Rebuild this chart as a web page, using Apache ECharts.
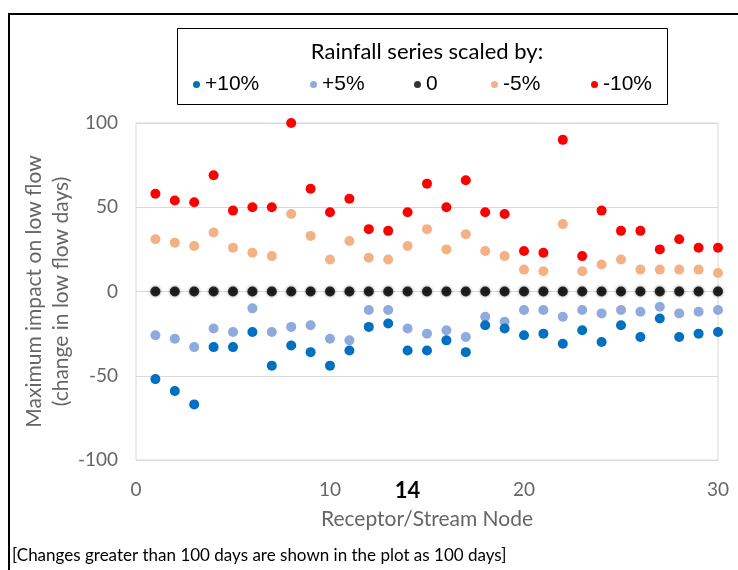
<!DOCTYPE html>
<html>
<head>
<meta charset="utf-8">
<script src="https://cdn.jsdelivr.net/npm/echarts@6/dist/echarts.min.js"></script>
<style>
    html, body { margin: 0; padding: 0; background: #fff; }
    #chart { width: 738px; height: 570px; }
</style>
</head>
<body>
<div id="chart"></div>
<script>
/* ===========================
   Data
=========================== */

const nodes = [1, 2, 3, 4, 5, 6, 7, 8, 9, 10, 11, 12, 13, 14, 15,
    16, 17, 18, 19, 20, 21, 22, 23, 24, 25, 26, 27, 28, 29, 30];

const plus10 = [-52, -59, -67, -33, -33, -24, -44, -32, -36, -44, -35, -21, -19, -35, -35,
    -29, -36, -20, -22, -26, -25, -31, -23, -30, -20, -27, -16, -27, -25, -24];

const plus5 = [-26, -28, -33, -22, -24, -10, -24, -21, -20, -28, -29, -11, -11, -22, -25,
    -23, -27, -15, -18, -11, -11, -15, -11, -13, -11, -12, -9, -13, -12, -11];

const zero = [0, 0, 0, 0, 0, 0, 0, 0, 0, 0, 0, 0, 0, 0, 0,
    0, 0, 0, 0, 0, 0, 0, 0, 0, 0, 0, 0, 0, 0, 0];

const minus5 = [31, 29, 27, 35, 26, 23, 21, 46, 33, 19, 30, 20, 19, 27, 37,
    25, 34, 24, 21, 13, 12, 40, 12, 16, 19, 13, 13, 13, 13, 11];

const minus10 = [58, 54, 53, 69, 48, 50, 50, 100, 61, 47, 55, 37, 36, 47, 64,
    50, 66, 47, 46, 24, 23, 90, 21, 48, 36, 36, 25, 31, 26, 26];

const seriesNames = ["+10%", "+5%", "0", "-5%", "-10%"];
const xTickLabels = [0, 10, 14, 20, 30];
const highlightNode = 14;

/* ===========================
   Helpers
=========================== */

function pairs(values) {
    return nodes.map((n, i) => [n, values[i]]);
}

function makeSeries(name, values, color, extra) {
    return Object.assign({
        name: name,
        type: "scatter",
        symbolSize: 10,
        itemStyle: { color: color, opacity: 1 },
        data: pairs(values)
    }, extra || {});
}

function makeLegend(name, left) {
    return {
        data: [name],
        left: left,
        top: 74,
        padding: 0,
        icon: "circle",
        itemWidth: 7,
        itemHeight: 7,
        selectedMode: false,
        textStyle: {
            fontFamily: "Liberation Sans",
            fontSize: 21,
            color: "#000"
        }
    };
}

/* ===========================
   Chart
=========================== */

const chart = echarts.init(document.getElementById("chart"));

chart.setOption({

    animation: false,
    backgroundColor: "#fff",

    textStyle: { fontFamily: "Lato" },

    legend: [
        makeLegend(seriesNames[0], 193),
        makeLegend(seriesNames[1], 310),
        makeLegend(seriesNames[2], 414),
        makeLegend(seriesNames[3], 491),
        makeLegend(seriesNames[4], 591)
    ],

    grid: {
        left: 136,
        right: 20,
        top: 123,
        bottom: 110,
        show: true,
        borderColor: "#d9d9d9",
        borderWidth: 1
    },

    xAxis: {
        type: "value",
        min: 0,
        max: 30,
        interval: 2,
        name: "Receptor/Stream Node",
        nameLocation: "middle",
        nameGap: 49,
        nameTextStyle: { color: "#666", fontSize: 21, fontFamily: "Lato" },
        axisLine: { show: false },
        axisTick: { show: false },
        splitLine: { show: false },
        axisLabel: {
            margin: 20,
            color: "#666",
            fontSize: 19,
            fontFamily: "Lato",
            formatter: v => {
                if (xTickLabels.indexOf(v) < 0) return "";
                return v === highlightNode ? "{b|" + v + "}" : String(v);
            },
            rich: {
                b: { fontWeight: "bold", color: "#000", fontSize: 22, fontFamily: "Lato" }
            }
        }
    },

    yAxis: {
        type: "value",
        min: -100,
        max: 100,
        interval: 50,
        name: "Maximum impact on low flow\n(change in low flow days)",
        nameLocation: "middle",
        nameRotate: 90,
        nameGap: 61,
        nameMoveOverlap: false,
        nameTextStyle: { color: "#666", fontSize: 21, fontFamily: "Lato", lineHeight: 27 },
        axisLine: { show: false },
        axisTick: { show: false },
        axisLabel: { margin: 18, color: "#666", fontSize: 19, fontFamily: "Lato" },
        splitLine: { lineStyle: { color: "#d9d9d9", width: 1 } }
    },

    graphic: [
        {
            type: "polyline",
            shape: { points: [[9, 570], [9, 14], [738, 14]] },
            style: { stroke: "#000", lineWidth: 2, fill: null }
        },
        {
            type: "rect",
            shape: { x: 177.5, y: 28.5, width: 490, height: 76 },
            style: { stroke: "#000", lineWidth: 1, fill: null }
        },
        {
            type: "text",
            x: 427,
            y: 52,
            style: {
                text: "Rainfall series scaled by:",
                fontFamily: "Lato",
                fontSize: 22,
                fill: "#000",
                textAlign: "center",
                textVerticalAlign: "middle"
            }
        },
        {
            type: "text",
            x: 12,
            y: 556,
            style: {
                text: "[Changes greater than 100 days are shown in the plot as 100 days]",
                fontFamily: "Lato",
                fontSize: 17,
                fill: "#000",
                textAlign: "left",
                textVerticalAlign: "middle"
            }
        }
    ],

    series: [
        makeSeries("-10%", minus10, "#ff0000"),
        makeSeries("-5%", minus5, "#f4b183"),
        makeSeries("0", zero, "#000000", {
            itemStyle: { color: "#000", shadowBlur: 3, shadowColor: "rgba(0,0,0,0.6)" }
        }),
        makeSeries("+5%", plus5, "#8faadc"),
        makeSeries("+10%", plus10, "#0070c0")
    ]

});
</script>
</body>
</html>
